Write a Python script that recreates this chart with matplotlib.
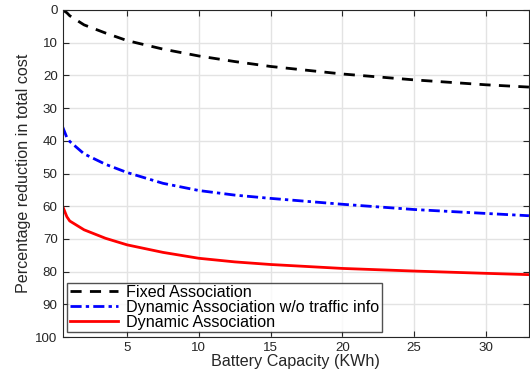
import numpy as np
import matplotlib.pyplot as plt

plt.rcParams['font.family'] = ['Liberation Sans', 'DejaVu Sans']

# battery capacity (KWh)
x = [0.5, 0.8, 1, 2, 3.5, 5, 7.5, 10, 12.5, 15, 20, 25, 30, 33]

# percentage reduction in total cost
fixed = [0, 0.9, 1.8, 4.6, 7.1, 9.4, 12.0, 14.1, 15.8, 17.3, 19.6, 21.4, 22.9, 23.6]
dyn_no_traffic = [35.7, 39.0, 40.2, 44.0, 47.2, 49.7, 53.0, 55.2, 56.6, 57.6, 59.4, 61.0, 62.2, 62.9]
dyn = [59.9, 63.2, 64.5, 67.2, 69.8, 71.8, 74.1, 75.9, 77.0, 77.8, 79.0, 79.8, 80.5, 80.9]

labels = ['Fixed Association', 'Dynamic Association w/o traffic info', 'Dynamic Association']

fig = plt.figure(figsize=(5.3, 3.78), dpi=100)
ax = fig.add_axes([0.118, 0.108, 0.88, 0.866])

ax.plot(x, fixed, color='black', lw=2, ls=(0, (4, 3)), label=labels[0])
ax.plot(x, dyn_no_traffic, color='blue', lw=2, ls=(0, (4, 1.5, 1.2, 1.5)), label=labels[1])
ax.plot(x, dyn, color='red', lw=2, ls='-', label=labels[2])

ax.set_xlim(0.5, 33)
ax.set_ylim(100, 0)
ax.set_xticks([5, 10, 15, 20, 25, 30])
ax.set_yticks(np.arange(0, 101, 10))
ax.grid(True, color='#e3e3e3', lw=1)
ax.set_axisbelow(True)
ax.tick_params(direction='in', top=True, right=True, labelsize=9.6, length=4, colors='#262626')
for s in ax.spines.values():
    s.set_color('#262626')

ax.set_xlabel('Battery Capacity (KWh)', fontsize=11.6, labelpad=0, color='#262626')
ax.set_ylabel('Percentage reduction in total cost', fontsize=11.6, labelpad=3, color='#262626')

leg = ax.legend(loc='lower left', fontsize=11.6, frameon=True, fancybox=False,
                borderpad=0.15, labelspacing=0.0, handlelength=3.0, handletextpad=0.5,
                borderaxespad=0.3)
leg.get_frame().set_edgecolor('#262626')
leg.get_frame().set_linewidth(1)

fig.savefig('out.png', dpi=100)
